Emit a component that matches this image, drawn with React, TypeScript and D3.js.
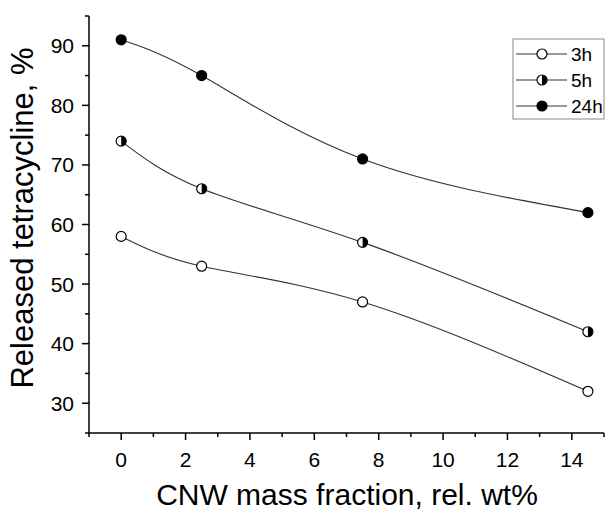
import React from "react";
import * as d3 from "d3";

const xValues = [0, 2.5, 7.5, 14.5];
const series3h = [58, 53, 47, 32];
const series5h = [74, 66, 57, 42];
const series24h = [91, 85, 71, 62];
const seriesNames = ["3h", "5h", "24h"];
const xMajorTicks = [0, 2, 4, 6, 8, 10, 12, 14];
const xMinorTicks = [-1, 1, 3, 5, 7, 9, 11, 13, 15];
const yMajorTicks = [30, 40, 50, 60, 70, 80, 90];
const yMinorTicks = [25, 35, 45, 55, 65, 75, 85, 95];
const xTitle = "CNW mass fraction, rel. wt%";
const yTitle = "Released tetracycline, %";

const W = 606;
const H = 516;
const FONT = "Arial, 'Liberation Sans', sans-serif";

type Kind = "open" | "half" | "filled";

function Marker({ cx, cy, kind, r = 5 }: { cx: number; cy: number; kind: Kind; r?: number }) {
  if (kind === "half") {
    const p = d3.path();
    p.moveTo(cx, cy - r);
    p.arc(cx, cy, r, -Math.PI / 2, Math.PI / 2, false);
    p.closePath();
    return (
      <g>
        <circle cx={cx} cy={cy} r={r} fill="#fff" />
        <path d={p.toString()} fill="#000" />
        <circle cx={cx} cy={cy} r={r} fill="none" stroke="#000" strokeWidth={1.2} />
      </g>
    );
  }
  return (
    <circle
      cx={cx}
      cy={cy}
      r={r}
      fill={kind === "filled" ? "#000" : "#fff"}
      stroke="#000"
      strokeWidth={1.2}
    />
  );
}

export default function App() {
  const x = d3.scaleLinear().domain([-1, 15]).range([89, 604]);
  const y = d3.scaleLinear().domain([25, 95]).range([433, 16]);

  const line = d3
    .line<[number, number]>()
    .x((d) => x(d[0]))
    .y((d) => y(d[1]))
    .curve(d3.curveNatural);

  const data: { name: string; values: number[]; kind: Kind }[] = [
    { name: seriesNames[0], values: series3h, kind: "open" },
    { name: seriesNames[1], values: series5h, kind: "half" },
    { name: seriesNames[2], values: series24h, kind: "filled" },
  ];

  const axisY = 433;
  const axisX = 89;

  return (
    <svg
      width={W}
      height={H}
      style={{ position: "absolute", left: 0, top: 0, background: "#fff" }}
      fontFamily={FONT}
    >
      <rect x={0} y={0} width={W} height={H} fill="#fff" />
      {data.map((s) => (
        <path
          key={"l" + s.name}
          d={line(xValues.map((v, i) => [v, s.values[i]] as [number, number])) || ""}
          fill="none"
          stroke="#333"
          strokeWidth={1.1}
        />
      ))}
      {data.map((s) =>
        s.values.map((v, i) => (
          <Marker key={s.name + i} cx={x(xValues[i])} cy={y(v)} kind={s.kind} />
        ))
      )}

      <line x1={axisX} x2={axisX} y1={y(95)} y2={axisY} stroke="#000" strokeWidth={1.5} />
      {yMajorTicks.map((t) => (
        <g key={"ym" + t}>
          <line x1={axisX - 7} x2={axisX} y1={y(t)} y2={y(t)} stroke="#000" strokeWidth={1.5} />
          <text x={axisX - 15} y={y(t)} dy="0.36em" textAnchor="end" fontSize={21} fill="#000">
            {t}
          </text>
        </g>
      ))}
      {yMinorTicks.map((t) => (
        <line key={"yn" + t} x1={axisX - 4} x2={axisX} y1={y(t)} y2={y(t)} stroke="#000" strokeWidth={1.5} />
      ))}

      <line x1={axisX} x2={x(15)} y1={axisY} y2={axisY} stroke="#000" strokeWidth={1.5} />
      {xMajorTicks.map((t) => (
        <g key={"xm" + t}>
          <line x1={x(t)} x2={x(t)} y1={axisY} y2={axisY + 7} stroke="#000" strokeWidth={1.5} />
          <text x={x(t)} y={axisY + 34} textAnchor="middle" fontSize={21} fill="#000">
            {t}
          </text>
        </g>
      ))}
      {xMinorTicks.map((t) => (
        <line key={"xn" + t} x1={x(t)} x2={x(t)} y1={axisY} y2={axisY + 4} stroke="#000" strokeWidth={1.5} />
      ))}

      <text x={347} y={505} textAnchor="middle" fontSize={30} fill="#000">
        {xTitle}
      </text>
      <text
        transform={`translate(33, 218) rotate(-90)`}
        textAnchor="middle"
        fontSize={31}
        fill="#000"
      >
        {yTitle}
      </text>

      <rect x={513} y={39} width={91} height={80} fill="#fff" stroke="#888" strokeWidth={1} />
      {data.map((s, i) => {
        const ly = 54 + i * 26;
        return (
          <g key={"lg" + s.name}>
            <line x1={516} x2={567} y1={ly} y2={ly} stroke="#333" strokeWidth={1.1} />
            <Marker cx={542} cy={ly} kind={s.kind} />
            <text x={571} y={ly} dy="0.36em" fontSize={19} fill="#000">
              {s.name}
            </text>
          </g>
        );
      })}
    </svg>
  );
}
